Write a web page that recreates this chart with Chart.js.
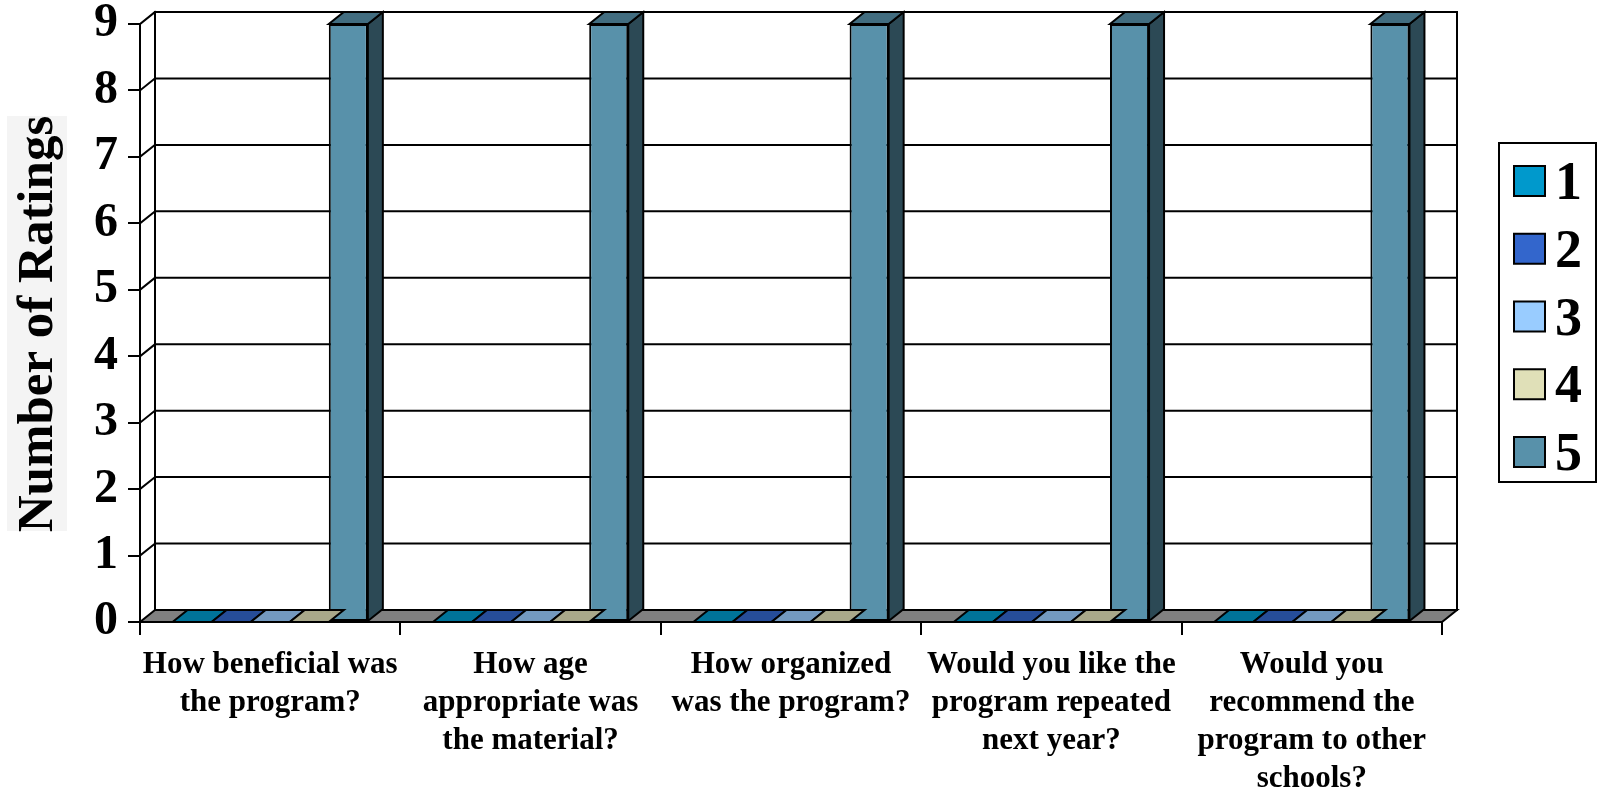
<!DOCTYPE html>
<html>
<head>
<meta charset="utf-8">
<script src="https://cdn.jsdelivr.net/npm/chart.js@4/dist/chart.umd.min.js"></script>
<style>
html,body{margin:0;padding:0;background:#fff;}
#wrap{width:1598px;height:792px;position:relative;}
</style>
</head>
<body>
<div id="wrap"><canvas id="c"></canvas></div>
<script>
const categories = [
  ["How beneficial was", "the program?"],
  ["How age", "appropriate was", "the material?"],
  ["How organized", "was the program?"],
  ["Would you like the", "program repeated", "next year?"],
  ["Would you", "recommend the", "program to other", "schools?"]
];
const seriesNames = ["1", "2", "3", "4", "5"];
const rating1 = [0, 0, 0, 0, 0];
const rating2 = [0, 0, 0, 0, 0];
const rating3 = [0, 0, 0, 0, 0];
const rating4 = [0, 0, 0, 0, 0];
const rating5 = [9, 9, 9, 9, 9];
const seriesColors = ["#0099cc", "#3366cc", "#99ccff", "#e0e0b8", "#5891aa"];
const yAxisTitle = "Number of Ratings";

const FONT = "'Liberation Serif', 'Times New Roman', serif";
const DX = 15, DY = -12;

function shade(hex, f) {
  const n = parseInt(hex.slice(1), 16);
  const r = Math.round(((n >> 16) & 255) * f), g = Math.round(((n >> 8) & 255) * f), b = Math.round((n & 255) * f);
  return `rgb(${r},${g},${b})`;
}
function poly(ctx, pts, fill) {
  ctx.beginPath();
  ctx.moveTo(pts[0][0], pts[0][1]);
  for (let i = 1; i < pts.length; i++) ctx.lineTo(pts[i][0], pts[i][1]);
  ctx.closePath();
  if (fill) { ctx.fillStyle = fill; ctx.fill(); }
  ctx.stroke();
}

const threeD = {
  id: 'threeD',
  beforeDatasetsDraw(chart) {
    const ctx = chart.ctx;
    const { left, right, top, bottom } = chart.chartArea;
    const y = chart.scales.y;
    ctx.save();
    ctx.lineWidth = 2;
    ctx.strokeStyle = '#000';
    ctx.lineCap = 'square';
    y.ticks.forEach(t => {
      const py = y.getPixelForValue(t.value);
      if (t.value > 0) {
        ctx.beginPath();
        ctx.moveTo(left + DX, py + DY); ctx.lineTo(right + DX, py + DY);
        ctx.moveTo(left, py); ctx.lineTo(left + DX, py + DY);
        ctx.stroke();
      }
    });
    ctx.beginPath();
    ctx.moveTo(left + DX, top + DY); ctx.lineTo(left + DX, bottom + DY);
    ctx.moveTo(right + DX, top + DY); ctx.lineTo(right + DX, bottom + DY);
    ctx.stroke();
    poly(ctx, [[left, bottom], [left + DX, bottom + DY], [right + DX, bottom + DY], [right, bottom]], '#808080');
    ctx.restore();
  },
  afterDatasetsDraw(chart) {
    const ctx = chart.ctx;
    ctx.save();
    ctx.lineWidth = 2;
    ctx.strokeStyle = '#000';
    chart.data.datasets.forEach((ds, di) => {
      const meta = chart.getDatasetMeta(di);
      const col = seriesColors[di];
      meta.data.forEach(bar => {
        const p = bar.getProps(['x', 'y', 'base', 'width'], true);
        const l = p.x - p.width / 2, r = p.x + p.width / 2;
        const t = Math.min(p.y, p.base), b = Math.max(p.y, p.base);
        if (b - t > 0.5) {
          poly(ctx, [[r, t], [r + DX, t + DY], [r + DX, b + DY], [r, b]], shade(col, 0.5));
        }
        poly(ctx, [[l, t], [l + DX, t + DY], [r + DX, t + DY], [r, t]], shade(col, 0.75));
      });
    });
    ctx.restore();
  },
  afterDraw(chart) {
    const ctx = chart.ctx;
    ctx.save();
    ctx.fillStyle = '#f4f4f4';
    ctx.fillRect(7, 116, 60, 415);
    ctx.translate(52, 324);
    ctx.rotate(-Math.PI / 2);
    ctx.fillStyle = '#000';
    ctx.font = `bold 51px ${FONT}`;
    ctx.textAlign = 'center';
    ctx.textBaseline = 'alphabetic';
    ctx.fillText(yAxisTitle, 0, 0);
    ctx.restore();
    ctx.save();
    ctx.lineWidth = 2;
    ctx.strokeStyle = '#000';
    ctx.strokeRect(1499, 143, 97, 339);
    ctx.font = `bold 54px ${FONT}`;
    ctx.textAlign = 'left';
    ctx.textBaseline = 'alphabetic';
    seriesNames.forEach((name, i) => {
      const cy = 181 + i * 67.75;
      ctx.fillStyle = seriesColors[i];
      ctx.fillRect(1514, cy - 15, 31, 30);
      ctx.strokeRect(1514, cy - 15, 31, 30);
      ctx.fillStyle = '#000';
      ctx.fillText(name, 1555, cy + 18);
    });
    ctx.restore();
  }
};

const datasets = [rating1, rating2, rating3, rating4, rating5].map((d, i) => ({
  label: seriesNames[i],
  data: d,
  backgroundColor: seriesColors[i],
  borderColor: '#000',
  borderWidth: 2,
  borderSkipped: false,
  categoryPercentage: 0.75,
  barPercentage: 1.0
}));

new Chart(document.getElementById('c'), {
  type: 'bar',
  data: { labels: categories, datasets },
  options: {
    responsive: true,
    maintainAspectRatio: false,
    animation: false,
    layout: { padding: { top: 24, right: 156, left: 0, bottom: 0 } },
    plugins: { legend: { display: false }, tooltip: { enabled: false } },
    scales: {
      x: {
        offset: true,
        afterFit(s) { s.height = 170; },
        grid: { offset: true, drawOnChartArea: false, drawTicks: true, tickLength: 13, color: '#000', lineWidth: 2 },
        border: { display: true, color: '#000', width: 2 },
        ticks: {
          autoSkip: false, maxRotation: 0, minRotation: 0, padding: 11, color: '#000',
          font: { family: FONT, size: 31, weight: 'bold', lineHeight: '38px' }
        }
      },
      y: {
        min: 0, max: 9,
        afterFit(s) { s.width = 140; },
        grid: { drawOnChartArea: false, drawTicks: true, tickLength: 12, color: '#000', lineWidth: 2 },
        border: { display: true, color: '#000', width: 2 },
        ticks: { stepSize: 1, padding: 10, color: '#000', font: { family: FONT, size: 48, weight: 'bold', lineHeight: 0.5 } }
      }
    }
  },
  plugins: [threeD]
});
</script>
</body>
</html>
